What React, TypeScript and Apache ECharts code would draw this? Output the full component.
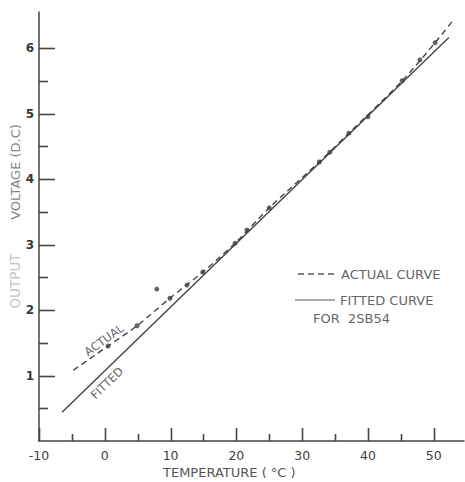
import React, { useEffect, useRef } from "react";
import * as echarts from "echarts";

// Axis ticks and labels
const xMajorTicks = [-10, 0, 10, 20, 30, 40, 50];
const xMinorTicks = [-5, 5, 15, 25, 35, 45];
const yMajorTicks = [1, 2, 3, 4, 5, 6];
const yMinorTicks = [0.5, 1.5, 2.5, 3.5, 4.5, 5.5];

// Fitted straight line (solid)
const fittedCurve: [number, number][] = [
  [-6.5, 0.44],
  [52.3, 6.16],
];

// Actual curve (dashed)
const actualCurve: [number, number][] = [
  [-4.8, 1.08],
  [0.5, 1.45],
  [4.9, 1.76],
  [9.9, 2.18],
  [14.9, 2.58],
  [19.8, 3.02],
  [25.0, 3.56],
  [32.6, 4.26],
  [37.1, 4.7],
  [45.2, 5.5],
  [50.2, 6.08],
  [52.9, 6.42],
];

// Measured points
const measuredPoints: [number, number][] = [
  [0.5, 1.45],
  [4.9, 1.76],
  [7.9, 2.32],
  [9.9, 2.18],
  [12.5, 2.38],
  [14.9, 2.58],
  [19.8, 3.02],
  [21.6, 3.22],
  [25.0, 3.56],
  [32.6, 4.26],
  [34.2, 4.41],
  [37.1, 4.7],
  [40.0, 4.95],
  [45.2, 5.5],
  [47.9, 5.82],
  [50.2, 6.08],
];

const X_MIN = -10;
const X_MAX = 54.6;
const Y_MIN = 0;
const Y_MAX = 6.55;

const INK = "#444444";
const FONT = "DejaVu Sans";

export default function App() {
  const ref = useRef<HTMLDivElement>(null);

  useEffect(() => {
    if (!ref.current) return;
    const chart = echarts.init(ref.current, undefined, { renderer: "svg" });
    const deg = Math.PI / 180;

    const xTickData = [...xMajorTicks, ...xMinorTicks].map((v) => [v, Y_MIN]);
    const yTickData = [...yMajorTicks, ...yMinorTicks].map((v) => [X_MIN, v]);

    const option: any = {
      animation: false,
      backgroundColor: "#ffffff",
      textStyle: { fontFamily: FONT },
      grid: { left: 39, right: 1, top: 12, bottom: 41 },
      xAxis: {
        type: "value",
        min: X_MIN,
        max: X_MAX,
        interval: 10,
        axisLine: { show: true, onZero: false, lineStyle: { color: INK, width: 1.5 } },
        axisTick: { show: false },
        axisLabel: {
          show: true,
          customValues: xMajorTicks,
          color: "#404040",
          fontSize: 12.5,
          margin: 8,
          fontFamily: FONT,
        },
        splitLine: { show: false },
      },
      yAxis: {
        type: "value",
        min: Y_MIN,
        max: Y_MAX,
        interval: 1,
        axisLine: { show: true, onZero: false, lineStyle: { color: INK, width: 1.5 } },
        axisTick: { show: false },
        axisLabel: {
          show: true,
          customValues: yMajorTicks,
          color: "#383838",
          fontSize: 12,
          fontWeight: "bold",
          margin: 5,
          fontFamily: FONT,
        },
        splitLine: { show: false },
      },
      series: [
        {
          name: "xTicks",
          type: "custom",
          data: xTickData,
          clip: false,
          silent: true,
          renderItem: (params: any, api: any) => {
            const v = api.value(0);
            const p = api.coord([v, Y_MIN]);
            const len = v % 10 === 0 ? 13 : 7;
            const x = Math.round(p[0]) + 0.5;
            return {
              type: "line",
              shape: { x1: x, y1: p[1], x2: x, y2: p[1] - len },
              style: { stroke: INK, lineWidth: 1.6 },
            };
          },
          z: 1,
        },
        {
          name: "yTicks",
          type: "custom",
          data: yTickData,
          clip: false,
          silent: true,
          renderItem: (params: any, api: any) => {
            const v = api.value(1);
            const p = api.coord([X_MIN, v]);
            const len = Number.isInteger(v) ? 16 : 9;
            const y = Math.round(p[1]) + 0.5;
            return {
              type: "line",
              shape: { x1: p[0], y1: y, x2: p[0] + len, y2: y },
              style: { stroke: INK, lineWidth: 1.6 },
            };
          },
          z: 1,
        },
        {
          name: "FITTED CURVE",
          type: "line",
          data: fittedCurve,
          showSymbol: false,
          symbol: "none",
          lineStyle: { color: INK, width: 1.4, type: "solid" },
          z: 2,
        },
        {
          name: "ACTUAL CURVE",
          type: "line",
          data: actualCurve,
          smooth: 0.3,
          showSymbol: false,
          symbol: "none",
          lineStyle: { color: INK, width: 1.4, type: [6, 4] },
          z: 3,
        },
        {
          name: "Measured",
          type: "scatter",
          data: measuredPoints,
          symbol: "circle",
          symbolSize: 5,
          itemStyle: { color: "#404040" },
          z: 4,
        },
      ],
      graphic: [
        {
          type: "text",
          x: 15,
          y: 172,
          rotation: Math.PI / 2,
          style: {
            text: "VOLTAGE (D.C)",
            fill: "#858585",
            font: `13px "${FONT}"`,
            textAlign: "center",
            textVerticalAlign: "middle",
          },
        },
        {
          type: "text",
          x: 15,
          y: 281,
          rotation: Math.PI / 2,
          style: {
            text: "OUTPUT",
            fill: "#c6c6c6",
            font: `13.5px "${FONT}"`,
            textAlign: "center",
            textVerticalAlign: "middle",
          },
        },
        {
          type: "text",
          x: 163,
          y: 472,
          style: {
            text: "TEMPERATURE ( °C )",
            fill: "#555555",
            font: `13px "${FONT}"`,
            textAlign: "left",
            textVerticalAlign: "middle",
          },
        },
        {
          type: "text",
          x: 104,
          y: 340,
          rotation: 36 * deg,
          style: {
            text: "ACTUAL",
            fill: "#666666",
            font: `11.5px "${FONT}"`,
            textAlign: "center",
            textVerticalAlign: "middle",
          },
        },
        {
          type: "text",
          x: 107,
          y: 383,
          rotation: 44 * deg,
          style: {
            text: "FITTED",
            fill: "#666666",
            font: `11.5px "${FONT}"`,
            textAlign: "center",
            textVerticalAlign: "middle",
          },
        },
        {
          type: "line",
          shape: { x1: 298, y1: 274, x2: 337, y2: 274 },
          style: { stroke: "#555555", lineWidth: 1.3, lineDash: [6, 4] },
        },
        {
          type: "text",
          x: 341,
          y: 274,
          style: {
            text: "ACTUAL CURVE",
            fill: "#666666",
            font: `13px "${FONT}"`,
            textAlign: "left",
            textVerticalAlign: "middle",
          },
        },
        {
          type: "line",
          shape: { x1: 295, y1: 300, x2: 335, y2: 300 },
          style: { stroke: "#555555", lineWidth: 1.2 },
        },
        {
          type: "text",
          x: 340,
          y: 300,
          style: {
            text: "FITTED CURVE",
            fill: "#666666",
            font: `13px "${FONT}"`,
            textAlign: "left",
            textVerticalAlign: "middle",
          },
        },
        {
          type: "text",
          x: 313,
          y: 318,
          style: {
            text: "FOR  2SB54",
            fill: "#666666",
            font: `13px "${FONT}"`,
            textAlign: "left",
            textVerticalAlign: "middle",
          },
        },
      ],
    };
    chart.setOption(option);
    return () => {
      chart.dispose();
    };
  }, []);

  return (
    <div
      ref={ref}
      style={{ position: "fixed", left: 0, top: 0, width: 465, height: 482, background: "#fff" }}
    />
  );
}
